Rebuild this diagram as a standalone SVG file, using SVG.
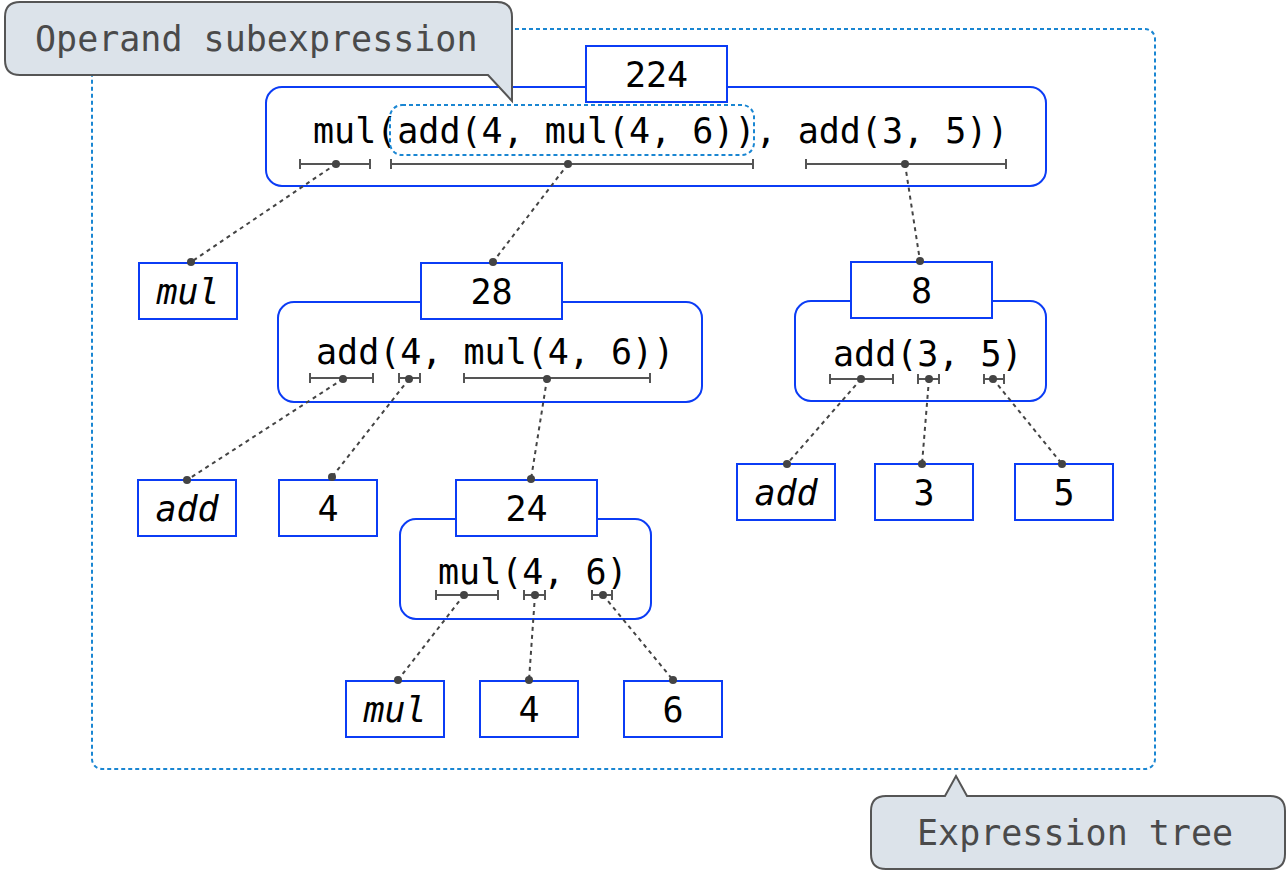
<svg xmlns="http://www.w3.org/2000/svg" width="1287" height="872" viewBox="0 0 1287 872">
<defs>
<style>
.bg{fill:#ffffff}
.frame{fill:none;stroke:#1a86d2;stroke-width:2;stroke-dasharray:4 3}
.exp{fill:#ffffff;stroke:#0b3cf5;stroke-width:2}
.box{fill:#ffffff;stroke:#0b3cf5;stroke-width:2}
.code{font-family:"DejaVu Sans Mono","Liberation Mono",monospace;font-size:35px;fill:#000}
.val{font-family:"DejaVu Sans Mono","Liberation Mono",monospace;font-size:35px;fill:#000;text-anchor:middle}
.op{font-family:"DejaVu Sans Mono","Liberation Mono",monospace;font-size:35px;font-style:italic;fill:#000;text-anchor:middle}
.br{fill:none;stroke:#555;stroke-width:2}
.dot{fill:#444}
.con{fill:none;stroke:#444;stroke-width:2;stroke-dasharray:4 4}
.callout{fill:#dce3ea;stroke:#555;stroke-width:2}
.ctext{font-family:"DejaVu Sans Mono","Liberation Mono",monospace;font-size:35px;fill:#4a4a4a}
</style>
</defs>
<rect class="bg" x="0" y="0" width="1287" height="872"/>
<rect id="tree-frame" class="frame" x="92" y="29" width="1063" height="740" rx="10"/>

<g id="node-root">
<rect class="exp" x="266" y="87" width="780" height="99" rx="16"/>
<rect class="box" x="586" y="46" width="141" height="56"/>
<text class="val" x="656.5" y="87">224</text>
<text class="code" x="313" y="143">mul(add(4, mul(4, 6)), add(3, 5))</text>
<rect x="390" y="105" width="364" height="50" rx="12" fill="none" stroke="#1a86d2" stroke-width="2" stroke-dasharray="4 3"/>
<path class="br" d="M300,164H370M300,159V169M370,159V169"/>
<path class="br" d="M391,164H753M391,159V169M753,159V169"/>
<path class="br" d="M806,164H1006M806,159V169M1006,159V169"/>
</g>

<g id="node-mul-1">
<rect class="box" x="139" y="263" width="98" height="56"/>
<text class="op" x="188" y="304">mul</text>
</g>

<g id="node-28">
<rect class="exp" x="278" y="302" width="424" height="100" rx="16"/>
<rect class="box" x="421" y="263" width="141" height="56"/>
<text class="val" x="491.5" y="304">28</text>
<text class="code" x="316" y="364">add(4, mul(4, 6))</text>
<path class="br" d="M310,378H373M310,373V383M373,373V383"/>
<path class="br" d="M399,378H420M399,373V383M420,373V383"/>
<path class="br" d="M464,378H650M464,373V383M650,373V383"/>
</g>

<g id="node-8">
<rect class="exp" x="795" y="301" width="251" height="100" rx="16"/>
<rect class="box" x="851" y="262" width="141" height="56"/>
<text class="val" x="921.5" y="303">8</text>
<text class="code" x="833" y="366">add(3, 5)</text>
<path class="br" d="M830,379H893M830,374V384M893,374V384"/>
<path class="br" d="M918,379H939M918,374V384M939,374V384"/>
<path class="br" d="M984,379H1004M984,374V384M1004,374V384"/>
</g>

<g id="node-add-1">
<rect class="box" x="138" y="480" width="98" height="56"/>
<text class="op" x="187" y="521">add</text>
</g>

<g id="node-4-1">
<rect class="box" x="279" y="480" width="98" height="56"/>
<text class="val" x="328" y="521">4</text>
</g>

<g id="node-24">
<rect class="exp" x="400" y="519" width="251" height="100" rx="16"/>
<rect class="box" x="456" y="480" width="141" height="56"/>
<text class="val" x="526.5" y="521">24</text>
<text class="code" x="438" y="584">mul(4, 6)</text>
<path class="br" d="M436,595H498M436,590V600M498,590V600"/>
<path class="br" d="M524,595H545M524,590V600M545,590V600"/>
<path class="br" d="M592,595H612M592,590V600M612,590V600"/>
</g>

<g id="node-add-2">
<rect class="box" x="737" y="464" width="98" height="56"/>
<text class="op" x="786" y="505">add</text>
</g>

<g id="node-3">
<rect class="box" x="875" y="464" width="98" height="56"/>
<text class="val" x="924" y="505">3</text>
</g>

<g id="node-5">
<rect class="box" x="1015" y="464" width="98" height="56"/>
<text class="val" x="1064" y="505">5</text>
</g>

<g id="node-mul-2">
<rect class="box" x="346" y="681" width="98" height="56"/>
<text class="op" x="395" y="722">mul</text>
</g>

<g id="node-4-2">
<rect class="box" x="480" y="681" width="98" height="56"/>
<text class="val" x="529" y="722">4</text>
</g>

<g id="node-6">
<rect class="box" x="624" y="681" width="98" height="56"/>
<text class="val" x="673" y="722">6</text>
</g>

<g id="connectors">
<line class="con" x1="336" y1="164" x2="191" y2="262"/>
<line class="con" x1="568" y1="164" x2="493" y2="262"/>
<line class="con" x1="905" y1="164" x2="920" y2="261"/>
<line class="con" x1="343" y1="379" x2="187" y2="480"/>
<line class="con" x1="409" y1="379" x2="332" y2="477"/>
<line class="con" x1="547" y1="379" x2="531" y2="479"/>
<line class="con" x1="861" y1="379" x2="787" y2="464"/>
<line class="con" x1="929" y1="379" x2="922" y2="464"/>
<line class="con" x1="993" y1="379" x2="1062" y2="464"/>
<line class="con" x1="464" y1="595" x2="398" y2="680"/>
<line class="con" x1="535" y1="595" x2="529" y2="680"/>
<line class="con" x1="603" y1="595" x2="673" y2="680"/>
<circle class="dot" cx="336" cy="164" r="4"/>
<circle class="dot" cx="568" cy="164" r="4"/>
<circle class="dot" cx="905" cy="164" r="4"/>
<circle class="dot" cx="191" cy="262" r="4"/>
<circle class="dot" cx="493" cy="262" r="4"/>
<circle class="dot" cx="920" cy="261" r="4"/>
<circle class="dot" cx="343" cy="379" r="4"/>
<circle class="dot" cx="409" cy="379" r="4"/>
<circle class="dot" cx="547" cy="379" r="4"/>
<circle class="dot" cx="861" cy="379" r="4"/>
<circle class="dot" cx="929" cy="379" r="4"/>
<circle class="dot" cx="993" cy="379" r="4"/>
<circle class="dot" cx="187" cy="480" r="4"/>
<circle class="dot" cx="332" cy="477" r="4"/>
<circle class="dot" cx="531" cy="479" r="4"/>
<circle class="dot" cx="787" cy="464" r="4"/>
<circle class="dot" cx="922" cy="464" r="4"/>
<circle class="dot" cx="1062" cy="464" r="4"/>
<circle class="dot" cx="464" cy="595" r="4"/>
<circle class="dot" cx="535" cy="595" r="4"/>
<circle class="dot" cx="603" cy="595" r="4"/>
<circle class="dot" cx="398" cy="680" r="4"/>
<circle class="dot" cx="529" cy="680" r="4"/>
<circle class="dot" cx="673" cy="680" r="4"/>
</g>

<g id="callout-operand">
<path class="callout" d="M20,2H497Q512,2 512,17V101L488,75H20Q5,75 5,60V17Q5,2 20,2Z"/>
<text class="ctext" x="35" y="51">Operand subexpression</text>
</g>

<g id="callout-tree">
<path class="callout" d="M886,796H945L956,776L967,796H1270Q1285,796 1285,811V854Q1285,869 1270,869H886Q871,869 871,854V811Q871,796 886,796Z"/>
<text class="ctext" x="917" y="845">Expression tree</text>
</g>
</svg>
